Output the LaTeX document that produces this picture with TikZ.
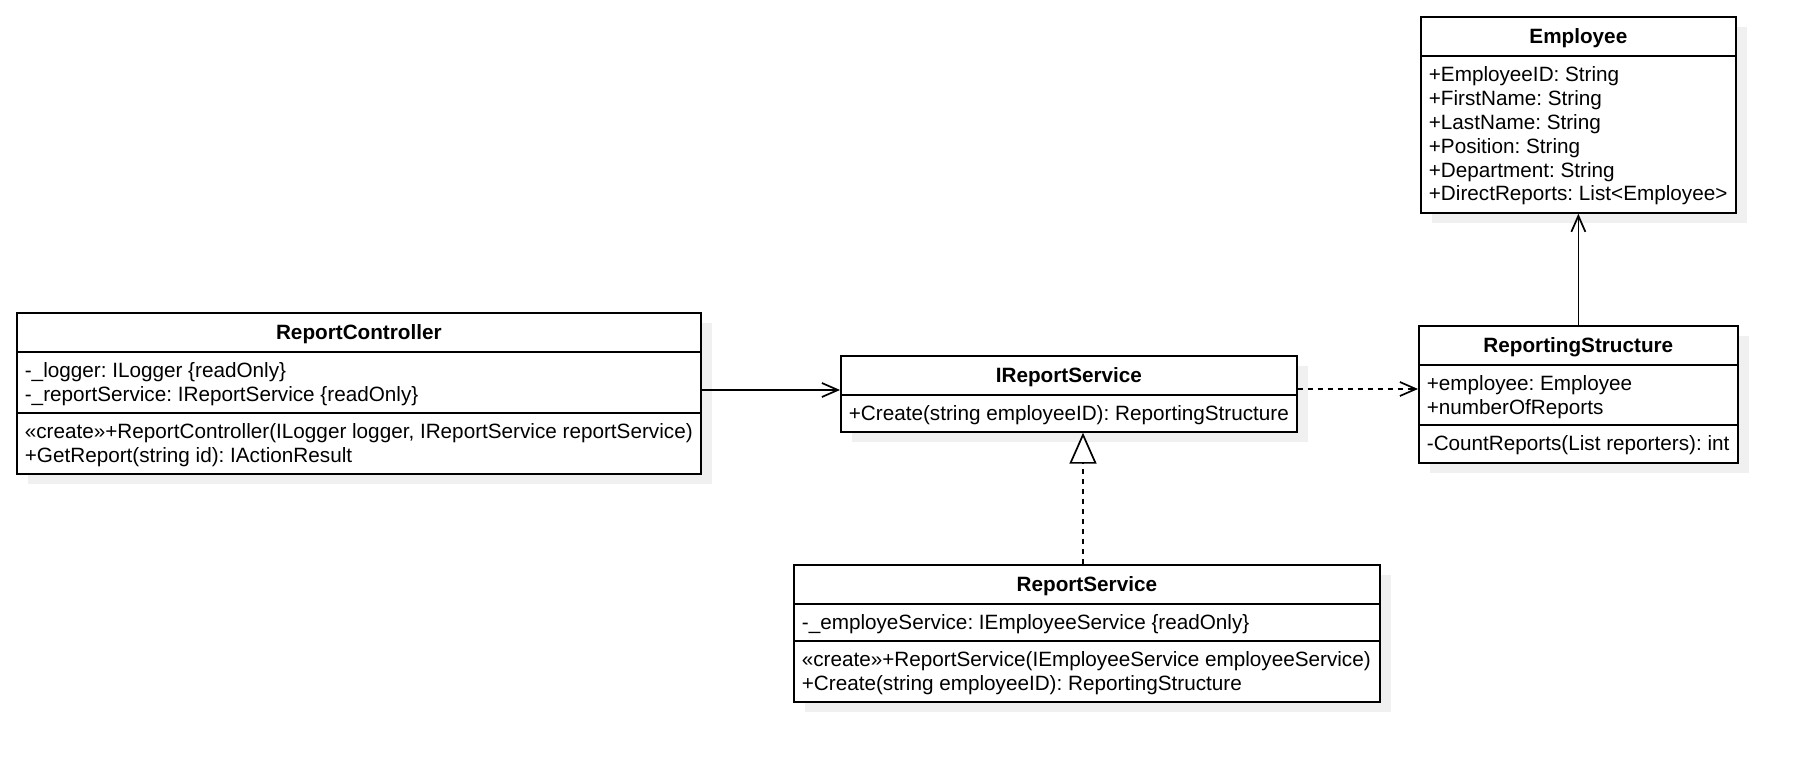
\documentclass[tikz,border=0pt]{standalone}
\usepackage{fontspec}
\setmainfont{Liberation Sans}
\usetikzlibrary{arrows.meta,shadows,calc}
\newcommand\umlfont{\fontsize{10.35pt}{11.9pt}\selectfont\frenchspacing}
\newcommand\fs{\rule{0pt}{9pt}}
\begin{document}
\begin{tikzpicture}[x=0.5pt,y=-0.5pt,
  line width=0.85pt,
  umlbox/.style={draw=black, fill=white, anchor=north west, inner sep=0pt,
    drop shadow={shadow xshift=5.5pt, shadow yshift=-5pt, fill=black!6, opacity=1}},
  umltitle/.style={anchor=base, inner sep=0pt, font=\umlfont\bfseries},
  umltext/.style={anchor=north west, inner sep=0pt, align=left, font=\umlfont},
  assoc/.style={-{Straight Barb[length=8pt,width=7pt]}},
  depend/.style={assoc, dash pattern=on 2.5pt off 2.5pt},
  realize/.style={-{Triangle[open,length=15.5pt,width=13.5pt,fill=white]}, dash pattern=on 2.5pt off 2.5pt}]
\useasboundingbox (0,0) rectangle (1802,765);

% class boxes
\node[umlbox, minimum width=342pt, minimum height=80.5pt] (rc) at (16,312) {};
\node[umlbox, minimum width=228pt, minimum height=38pt] (irs) at (840,355) {};
\node[umlbox, minimum width=159.5pt, minimum height=68.5pt] (rs) at (1418,325) {};
\node[umlbox, minimum width=157.5pt, minimum height=98pt] (emp) at (1420,16) {};
\node[umlbox, minimum width=293pt, minimum height=68.5pt] (rsv) at (793,564) {};

% compartment lines
\foreach \b/\off in {rc/40, rc/101, irs/40, rs/40, rs/100, emp/40, rsv/40, rsv/77}{
  \draw ($(\b.north west)+(0,\off)$) -- ($(\b.north east)+(0,\off)$);
}

% ReportController
\node[umltitle] (rc-t) at ($(rc.north)+(0,27.5)$) {ReportController};
\node[umltext] (rc-a) at ($(rc.north west)+(8,47)$) {\fs -\_logger: ILogger \{readOnly\}\\-\_reportService: IReportService \{readOnly\}};
\node[umltext] (rc-m) at ($(rc.north west)+(8,108)$) {\fs «create»+ReportController(ILogger logger, IReportService reportService)\\+GetReport(string id): IActionResult};

% IReportService
\node[umltitle] (irs-t) at ($(irs.north)+(0,27.5)$) {IReportService};
\node[umltext] (irs-m) at ($(irs.north west)+(8,47)$) {\fs +Create(string employeeID): ReportingStructure};

% ReportingStructure
\node[umltitle] (rs-t) at ($(rs.north)+(0,27.5)$) {ReportingStructure};
\node[umltext] (rs-a) at ($(rs.north west)+(8,47)$) {\fs +employee: Employee\\+numberOfReports};
\node[umltext] (rs-m) at ($(rs.north west)+(8,107)$) {\fs -CountReports(List reporters): int};

% Employee
\node[umltitle] (emp-t) at ($(emp.north)+(0,27.5)$) {Employee};
\node[umltext] (emp-a) at ($(emp.north west)+(8,47)$) {\fs +EmployeeID: String\\+FirstName: String\\+LastName: String\\+Position: String\\+Department: String\\+DirectReports: List<Employee>};

% ReportService
\node[umltitle] (rsv-t) at ($(rsv.north)+(0,27.5)$) {ReportService};
\node[umltext] (rsv-a) at ($(rsv.north west)+(8,47)$) {\fs -\_employeService: IEmployeeService \{readOnly\}};
\node[umltext] (rsv-m) at ($(rsv.north west)+(8,84)$) {\fs «create»+ReportService(IEmployeeService employeeService)\\+Create(string employeeID): ReportingStructure};

% connectors
\coordinate (ya) at (0,390);
\coordinate (yb) at (0,389);
\coordinate (xr) at (1083,0);
\draw[assoc] (rc.east |- ya) -- (irs.west |- ya);
\draw[depend] (irs.east |- yb) -- (rs.west |- yb);
\draw[assoc] (rs.north) -- (emp.south);
\draw[realize] (rsv.north -| xr) -- (irs.south -| xr);
\end{tikzpicture}
\end{document}
